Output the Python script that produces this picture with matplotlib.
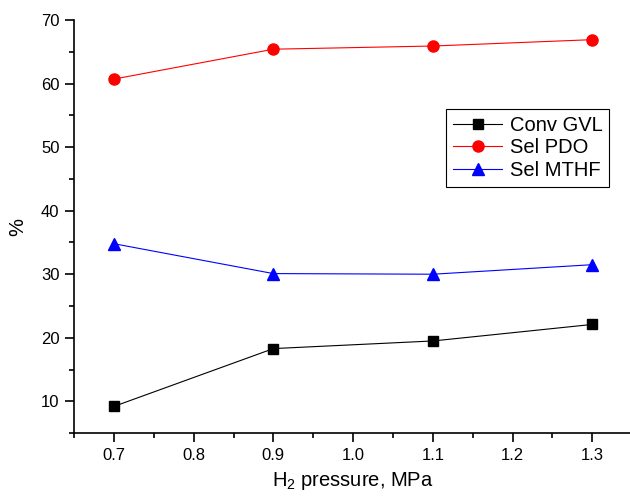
import matplotlib
matplotlib.use("Agg")
import matplotlib.pyplot as plt
from matplotlib.ticker import MultipleLocator

plt.rcParams['font.family'] = ['Liberation Sans', 'DejaVu Sans']
plt.rcParams['mathtext.default'] = 'regular'

# data
pressure = [0.7, 0.9, 1.1, 1.3]
conv_gvl = [9.2, 18.3, 19.5, 22.1]
sel_pdo = [60.7, 65.4, 65.9, 66.9]
sel_mthf = [34.8, 30.1, 30.0, 31.5]

fig = plt.figure(figsize=(6.3, 4.99), dpi=100)
ax = fig.add_axes([0.1175, 0.132, 0.886, 0.828])

ax.plot(pressure, conv_gvl, color='black', lw=0.8, marker='s', ms=6.8, label='Conv GVL')
ax.plot(pressure, sel_pdo, color='red', lw=0.8, marker='o', ms=8, label='Sel PDO')
ax.plot(pressure, sel_mthf, color='blue', lw=0.8, marker='^', ms=9, label='Sel MTHF')

ax.set_xlim(0.65, 1.35)
ax.set_ylim(5, 70)
ax.xaxis.set_minor_locator(MultipleLocator(0.05))
ax.yaxis.set_minor_locator(MultipleLocator(5))
ax.set_xticks([0.7, 0.8, 0.9, 1.0, 1.1, 1.2, 1.3])
ax.set_yticks([10, 20, 30, 40, 50, 60, 70])

for s in ['top', 'right']:
    ax.spines[s].set_visible(False)
for s in ['left', 'bottom']:
    ax.spines[s].set_linewidth(1.2)

ax.tick_params(which='major', direction='out', length=6.5, width=1.2, labelsize=12, pad=4)
ax.tick_params(which='minor', direction='out', length=3.5, width=1.2)

ax.set_xlabel('H$_2$ pressure, MPa', fontsize=14.5, labelpad=5)
ax.set_ylabel('%', fontsize=14.5, labelpad=10)

leg = ax.legend(loc='upper right', bbox_to_anchor=(0.959, 0.785), fontsize=14.5,
                frameon=True, fancybox=False, edgecolor='black', framealpha=1,
                handlelength=2.45, borderpad=0.35, labelspacing=0.18, handletextpad=0.35,
                borderaxespad=0)
leg.get_frame().set_linewidth(0.8)

fig.savefig('out.png', dpi=100)
